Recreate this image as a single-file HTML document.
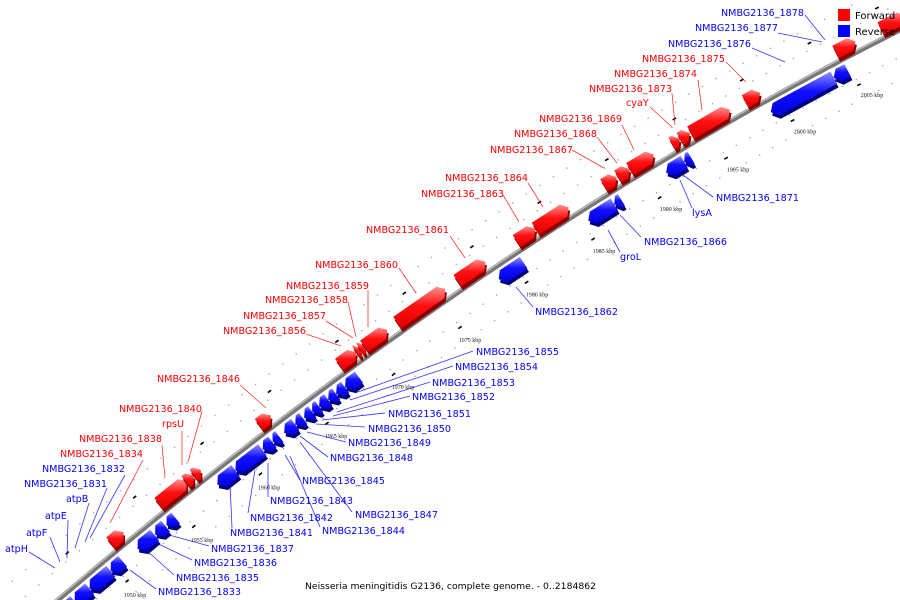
<!DOCTYPE html>
<html><head><meta charset="utf-8"><style>
html,body{margin:0;padding:0;background:#fff;width:900px;height:600px;overflow:hidden;}
svg{display:block;font-family:"DejaVu Sans","Liberation Sans",sans-serif;overflow:hidden;}
</style></head><body>
<svg id="chart" width="900" height="600" viewBox="0 0 900 600" xmlns="http://www.w3.org/2000/svg">
<defs>
<linearGradient id="gr" x1="0" y1="0" x2="0" y2="1"><stop offset="0" stop-color="#ff9090"/><stop offset="0.45" stop-color="#ff1010"/><stop offset="1" stop-color="#e00000"/></linearGradient>
<linearGradient id="gb" x1="0" y1="0" x2="0" y2="1"><stop offset="0" stop-color="#9090ff"/><stop offset="0.45" stop-color="#1010ff"/><stop offset="1" stop-color="#0000e0"/></linearGradient>
<clipPath id="clip"><rect x="0" y="0" width="900" height="600"/></clipPath>
</defs>
<g clip-path="url(#clip)">
<g id="dots"></g>
<g id="axisline"></g>
<g id="genes"></g>
<g id="leaders"></g>
<g id="labels"></g>
</g>
<g>
<rect x="838" y="9" width="12" height="12" fill="#f00"/>
<text x="855" y="19" font-size="10">Forward</text>
<rect x="838" y="25" width="12" height="12" fill="#00f"/>
<text x="855" y="35" font-size="10">Reverse</text>
</g>
<text x="305" y="589" font-size="9" textLength="291" lengthAdjust="spacingAndGlyphs">Neisseria meningitidis G2136, complete genome. - 0..2184862</text>
</svg>
<script>
// forward genes (kbp)
const fwdStart=[1950.67,1954.25,1956.27,1956.87,1961.72,1967.69,1968.96,1969.25,1969.55,1972.01,1976.49,1980.9,1982.31,1987.39,1988.43,1989.33,1992.46,1993.06,1993.85,1997.91,2004.63,2007.99];
const fwdEnd=[1951.64,1956.34,1956.87,1957.39,1962.61,1968.96,1969.25,1969.55,1971.27,1975.6,1978.58,1982.31,1984.78,1988.36,1989.33,1991.12,1993.06,1993.81,1996.79,1999.03,2006.12,2009.85];
// reverse genes (kbp)
const revStart=[1946.04,1946.94,1948.06,1949.63,1951.64,1952.95,1953.8,1957.61,1958.96,1961.0,1961.75,1962.61,1963.43,1964.1,1964.7,1965.22,1965.9,1966.49,1967.16,1978.66,1985.37,1987.31,1991.19,1992.54,1999.03,2003.73];
const revEnd=[1946.94,1948.06,1949.63,1950.52,1952.91,1953.73,1954.48,1958.96,1960.97,1961.72,1962.24,1963.43,1964.03,1964.7,1965.22,1965.9,1966.49,1967.16,1968.2,1980.52,1987.31,1987.84,1992.54,1993.06,2003.73,2004.78];
// tick labels (kbp)
const tickKbp=[1950,1955,1960,1965,1970,1975,1980,1985,1990,1995,2000,2005];

const NS="http://www.w3.org/2000/svg";
function mk(tag,attrs,parent){const e=document.createElementNS(NS,tag);for(const k in attrs)e.setAttribute(k,attrs[k]);parent.appendChild(e);return e;}
function X(k){return 108+13.4*(k-1950);}
function Yx(x){return 600-0.7712*(x-58)+0.000208*(x-58)*(x-447);}
function P(k){const x=X(k);return [x,Yx(x)];}
function frame(k){const a=P(k-0.05),b=P(k+0.05);let tx=b[0]-a[0],ty=b[1]-a[1];const l=Math.hypot(tx,ty);tx/=l;ty/=l;return {t:[tx,ty],n:[ty,-tx]};}
function off(p,n,d){return [p[0]+n[0]*d,p[1]+n[1]*d];}

const axis=document.getElementById('axisline');
let d="";for(let x=40;x<=920;x+=4){d+=(x===40?"M":"L")+x+","+Yx(x).toFixed(1)+" ";}
const al1=mk('path',{d:d,fill:"none",stroke:"#777",'stroke-width':5},axis);


const al2=mk('path',{d:d,fill:"none",stroke:"#bbb",'stroke-width':1.5,transform:"translate(-0.8,-1.2)"},axis);



const dots=document.getElementById('dots');
for(let k=1944;k<=2012;k+=1){
  const p=P(k),f=frame(k);
  [24,44,-24,-44].forEach(o=>{const q=off(p,f.n,o);
    const c=mk('circle',{cx:q[0].toFixed(1),cy:q[1].toFixed(1),r:0.8,fill:"#aaa"},dots);
    
    });
}
for(let k=1943.4;k<=2012;k+=5){
  [[k,30],[k+1.6,-30]].forEach(([kk,o])=>{const p=P(kk),f=frame(kk),q=off(p,f.n,o);
    const l=mk('line',{x1:(q[0]-f.t[0]*2).toFixed(1),y1:(q[1]-f.t[1]*2).toFixed(1),x2:(q[0]+f.t[0]*2).toFixed(1),y2:(q[1]+f.t[1]*2).toFixed(1),stroke:"#000",'stroke-width':1.6},dots);
    
    });
}
tickKbp.forEach(k=>{const p=P(k);
  const t=mk('text',{x:(p[0]+27).toFixed(1),y:(p[1]+39).toFixed(1),'font-size':6,'font-family':'"Liberation Serif",serif','text-anchor':'middle',fill:"#222"},dots);
  t.textContent=k+" kbp";
  
  });

const genes=document.getElementById('genes');
function gene(s,e,fwd){
  const m=(s+e)/2,f=frame(m),ps=P(s),pe=P(e);
  const n=fwd?f.n:[-f.n[0],-f.n[1]];
  const d1=fwd?3:5,d2=fwd?17:19;
  const len=Math.hypot(pe[0]-ps[0],pe[1]-ps[1]);const a=Math.min(6,len*0.6);
  let tail=fwd?ps:pe,head=fwd?pe:ps;const dir=fwd?f.t:[-f.t[0],-f.t[1]];
  const hb=[head[0]-dir[0]*a,head[1]-dir[1]*a];
  const pts=[off(tail,n,d1),off(hb,n,d1),off(head,n,(d1+d2)/2),off(hb,n,d2),off(tail,n,d2)];
  const str=pts.map(p=>p[0].toFixed(1)+","+p[1].toFixed(1)).join(" ");
  const sh=mk('polygon',{points:str,fill:fwd?"#8a0000":"#00007a",transform:"translate(1.5,3.5)"},genes);
  
  
  const g=mk('polygon',{points:str,fill:fwd?"url(#gr)":"url(#gb)"},genes);
  
  
}
revStart.forEach((s,i)=>gene(s,revEnd[i],false));
fwdStart.forEach((s,i)=>gene(s,fwdEnd[i],true));

const labelText=["NMBG2136_1878","NMBG2136_1877","NMBG2136_1876","NMBG2136_1875","NMBG2136_1874","NMBG2136_1873","cyaY","NMBG2136_1869","NMBG2136_1868","NMBG2136_1867","NMBG2136_1864","NMBG2136_1863","NMBG2136_1861","NMBG2136_1860","NMBG2136_1859","NMBG2136_1858","NMBG2136_1857","NMBG2136_1856","NMBG2136_1846","NMBG2136_1840","rpsU","NMBG2136_1838","NMBG2136_1834","NMBG2136_1832","NMBG2136_1831","atpB","atpE","atpF","atpH",
"NMBG2136_1871","lysA","NMBG2136_1866","groL","NMBG2136_1862","NMBG2136_1855","NMBG2136_1854","NMBG2136_1853","NMBG2136_1852","NMBG2136_1851","NMBG2136_1850","NMBG2136_1849","NMBG2136_1848","NMBG2136_1845","NMBG2136_1843","NMBG2136_1847","NMBG2136_1842","NMBG2136_1844","NMBG2136_1841","NMBG2136_1837","NMBG2136_1836","NMBG2136_1835","NMBG2136_1833"];
const labelStrand=["r","r","r","f","f","f","f","f","f","f","f","f","f","f","f","f","f","f","f","f","f","f","f","r","r","r","r","r","r","r","r","r","r","r","r","r","r","r","r","r","r","r","r","r","r","r","r","r","r","r","r","r"];
const L=[[721,12,805,15,825,40],[695,27,778,33,822,42],[668,43,752,48,785,62],[642,58,726,62,746,82],[614,73,698,80,702,110],[589,88,672,93,675,125],[626,102,650,107,672,127],[539,118,622,125,634,150],[514,133,597,137,617,163],[490,149,572,150,604,168],[445,177,528,183,543,207],[421,193,503,195,519,222],[366,229,450,236,465,258],[315,264,399,268,416,293],[286,285,368,290,368,327],[265,299,348,302,356,337],[243,315,326,321,353,338],[223,330,306,334,341,346],[157,378,240,385,266,408],[119,408,202,411,188,462],[162,423,182,431,182,465],[79,438,162,445,165,478],[60,453,143,460,110,523],[42,468,125,475,90,538],[24,483,107,488,85,542],[66,498,89,503,75,548],[45,515,68,520,67,558],[26,532,50,537,60,562],[5,548,29,552,55,568],
[716,197,713,197,683,175],[692,212,692,208,680,180],[644,241,641,237,620,215],[620,256,620,252,608,230],[535,311,533,307,516,287],[476,351,473,351,355,393],[455,366,453,366,350,400],[432,382,430,382,337,412],[412,396,410,396,333,416],[388,413,385,413,322,420],[368,428,365,427,316,424],[348,442,346,442,307,432],[330,457,328,457,300,436],[302,480,300,480,285,455],[270,500,268,497,268,463],[355,514,352,512,300,442],[250,517,248,513,255,470],[322,530,320,527,290,456],[230,532,232,528,230,483],[211,548,209,546,162,533],[194,562,192,560,150,540],[176,577,174,575,145,549],[158,591,156,589,130,570]];
const lg=document.getElementById('labels'),ld=document.getElementById('leaders');
labelText.forEach((t,i)=>{const c=labelStrand[i]==="f"?"#f00":"#00f";const v=L[i];
  const ln=mk('line',{x1:v[2],y1:v[3],x2:v[4],y2:v[5],stroke:c,'stroke-width':0.8,opacity:0.8},ld);
  
  
  const tx=mk('text',{x:v[0],y:v[1]+4,'font-size':9.6,fill:c},lg);
  tx.textContent=t;
  
  });
</script>
</body></html>
